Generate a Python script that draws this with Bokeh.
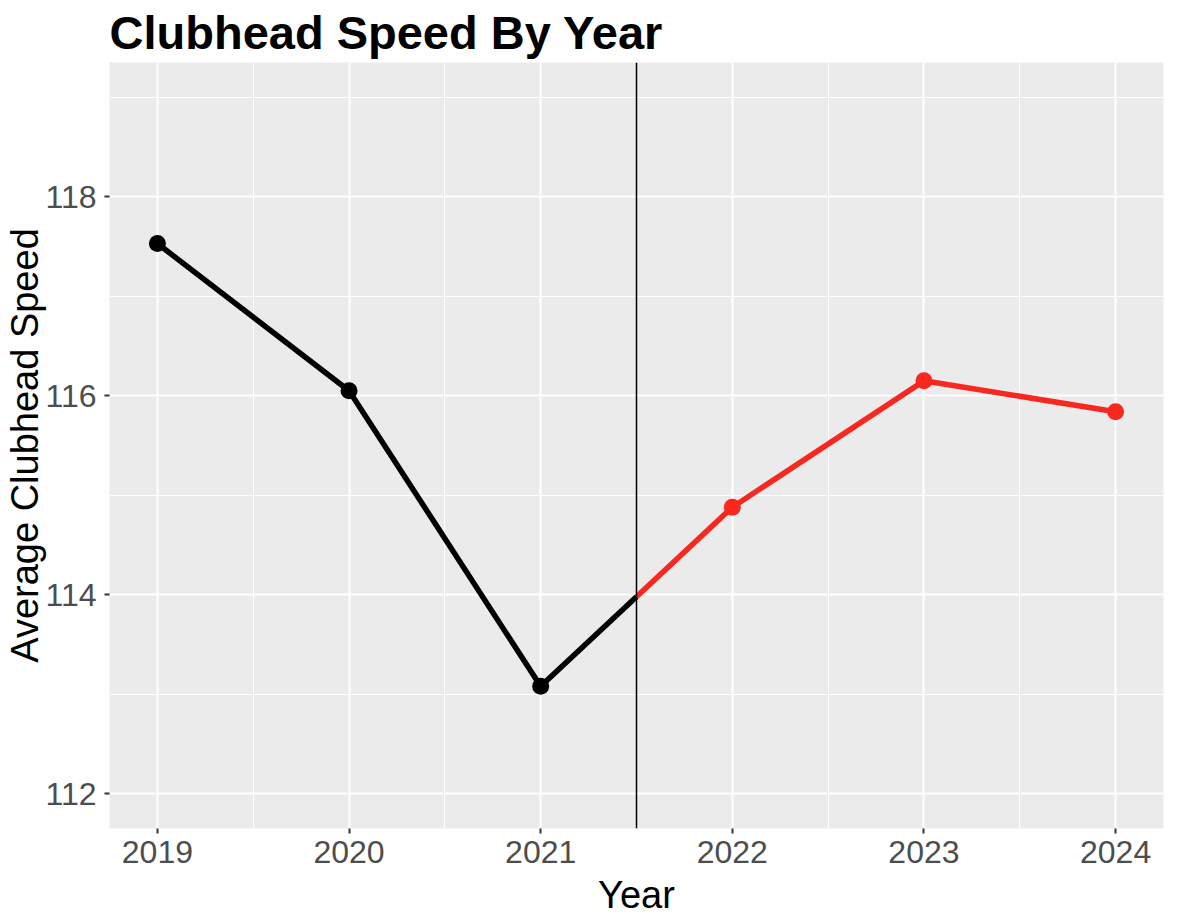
import numpy as np
from bokeh.plotting import figure
from bokeh.models import FixedTicker, Span
from bokeh.embed import file_html
from bokeh.resources import INLINE

# data
years = [2019, 2020, 2021, 2022, 2023, 2024]
speed = [117.53, 116.05, 113.08, 114.88, 116.15, 115.84]
split_year = 2021.5
y_ticks = [112, 114, 116, 118]
y_minor = [113, 115, 117, 119]

FONT = "Liberation Sans"
RED = "#F8281F"

p = figure(frame_width=1054, frame_height=766,
           x_range=(2018.75, 2024.25), y_range=(111.65, 119.35),
           output_backend="svg", toolbar_location=None,
           title="Clubhead Speed By Year",
           x_axis_label="Year", y_axis_label="Average Clubhead Speed",
           min_border_left=109, min_border_right=8,
           min_border_top=62, min_border_bottom=94)

p.background_fill_color = "#EBEBEB"
p.border_fill_color = "white"
p.outline_line_color = None

p.title.text_font = FONT
p.title.text_font_size = "47px"
p.title.text_font_style = "bold"
p.title.text_color = "black"
p.title.offset = 0
p.title.standoff = 7

p.xaxis.ticker = FixedTicker(ticks=years,
                             minor_ticks=[y + 0.5 for y in years[:-1]])
p.yaxis.ticker = FixedTicker(ticks=y_ticks, minor_ticks=y_minor)

for ax in (p.xaxis[0], p.yaxis[0]):
    ax.axis_line_color = None
    ax.major_tick_in = 0
    ax.major_tick_out = 5
    ax.major_tick_line_color = "#333333"
    ax.major_tick_line_width = 2
    ax.minor_tick_line_color = None
    ax.major_label_text_font = FONT
    ax.major_label_text_font_size = "32px"
    ax.major_label_text_color = "#4D4D4D"
    ax.axis_label_text_font = FONT
    ax.axis_label_text_font_size = "38px"
    ax.axis_label_text_font_style = "normal"
    ax.axis_label_text_color = "black"

p.xaxis.major_label_standoff = 7
p.yaxis.major_label_standoff = 8
p.xaxis.axis_label_standoff = 8
p.yaxis.axis_label_standoff = -4

for g in (p.xgrid[0], p.ygrid[0]):
    g.grid_line_color = "white"
    g.grid_line_width = 2
    g.minor_grid_line_color = "white"
    g.minor_grid_line_width = 1

# split the 2021-2022 segment at the vertical line
mid = float(np.interp(split_year, years, speed))
bx = years[:3] + [split_year]
by = speed[:3] + [mid]
rx = [split_year] + years[3:]
ry = [mid] + speed[3:]

p.line(bx, by, line_color="black", line_width=5.5)
p.line(rx, ry, line_color=RED, line_width=5.5)
p.scatter(years[:3], speed[:3], size=17, fill_color="black", line_color=None)
p.scatter(years[3:], speed[3:], size=17, fill_color=RED, line_color=None)

p.add_layout(Span(location=split_year, dimension="height",
                  line_color="black", line_width=1.5))

open("out.html", "w").write(file_html(p, INLINE))
